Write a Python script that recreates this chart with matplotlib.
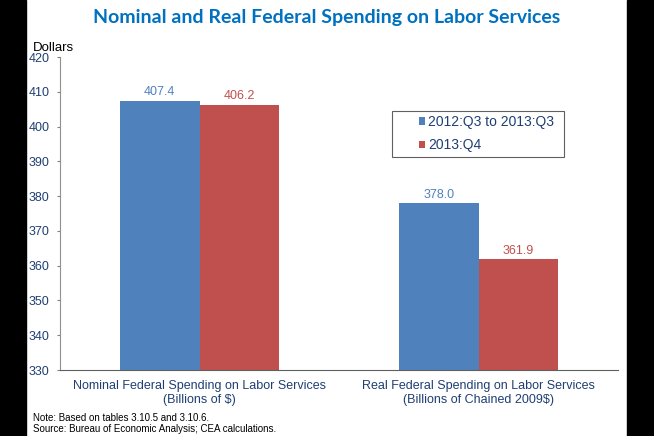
import matplotlib
matplotlib.use("Agg")
import matplotlib.pyplot as plt
from matplotlib.patches import Rectangle

categories = ["Nominal Federal Spending on Labor Services\n(Billions of $)",
              "Real Federal Spending on Labor Services\n(Billions of Chained 2009$)"]
series_names = ["2012:Q3 to 2013:Q3", "2013:Q4"]
avg_values = [407.4, 378.0]
q4_values = [406.2, 361.9]
yticks = [330, 340, 350, 360, 370, 380, 390, 400, 410, 420]

blue = "#4F81BD"
red = "#C0504D"
tick_col = "#1F3F73"

plt.rcParams['font.family'] = ['Liberation Sans', 'DejaVu Sans']

W, H = 654, 436
fig = plt.figure(figsize=(W/100, H/100), dpi=100)
ax = fig.add_axes([60/W, 1-370/H, 558/W, 313/H])

x = list(range(len(categories)))
w = 0.285
ax.bar([i - w/2 for i in x], [v - 330 for v in avg_values], bottom=330, width=w,
       color=blue, label=series_names[0])
ax.bar([i + w/2 for i in x], [v - 330 for v in q4_values], bottom=330, width=w,
       color=red, label=series_names[1])
for i, v in enumerate(avg_values):
    ax.annotate(f"{v:.1f}", (i - w/2, v), xytext=(0, 1.8), textcoords="offset points",
                ha="center", va="bottom", color=blue, fontsize=9)
for i, v in enumerate(q4_values):
    ax.annotate(f"{v:.1f}", (i + w/2, v), xytext=(0, 1.8), textcoords="offset points",
                ha="center", va="bottom", color=red, fontsize=9)

ax.set_xlim(-0.5, 1.5)
ax.set_ylim(330, 420)
ax.set_yticks(yticks)
ax.set_xticks(x)
ax.set_xticklabels(categories, color=tick_col, fontsize=9)
ax.tick_params(axis='x', length=0, pad=7.5)
ax.tick_params(axis='y', length=2.5, color="#808080", labelcolor=tick_col, labelsize=9, pad=5)
for s in ["top", "right"]:
    ax.spines[s].set_visible(False)
ax.spines["left"].set_color("#909090")
ax.spines["bottom"].set_color("#606060")

# legend frame
fig.patches.append(Rectangle((392/W, 1-157/H), (564-392)/W, (157-111)/H, transform=fig.transFigure,
                             facecolor="white", edgecolor="#606060", linewidth=0.8, zorder=5))
leg = fig.legend(loc="upper left", bbox_to_anchor=(418.5/W, 1-115/H),
                 fontsize=10, frameon=False, handlelength=0.45, handleheight=0.45,
                 handletextpad=0.25, borderpad=0, labelspacing=0.67, borderaxespad=0)
leg.set_zorder(6)
for t in leg.get_texts():
    t.set_color(tick_col)

fig.text(327/W, 1-18/H, "Nominal and Real Federal Spending on Labor Services",
         ha="center", va="center", fontsize=14, fontweight="bold", color="#0070C0",
         family=["Lato", "DejaVu Sans"])
fig.text(33/W, 1-48/H, "Dollars", ha="left", va="center", fontsize=9.5, color="black")
fig.text(33/W, 1-418/H, "Note: Based on tables 3.10.5 and 3.10.6.", ha="left", va="center",
         fontsize=7, color="black")
fig.text(33/W, 1-428.5/H, "Source: Bureau of Economic Analysis; CEA calculations.", ha="left",
         va="center", fontsize=7, color="black")

fig.patches.append(Rectangle((0, 0), 26/W, 1, transform=fig.transFigure, color="black", zorder=10))
fig.patches.append(Rectangle((627/W, 0), 27/W, 1, transform=fig.transFigure, color="black", zorder=10))

fig.savefig("out.png", dpi=100)
